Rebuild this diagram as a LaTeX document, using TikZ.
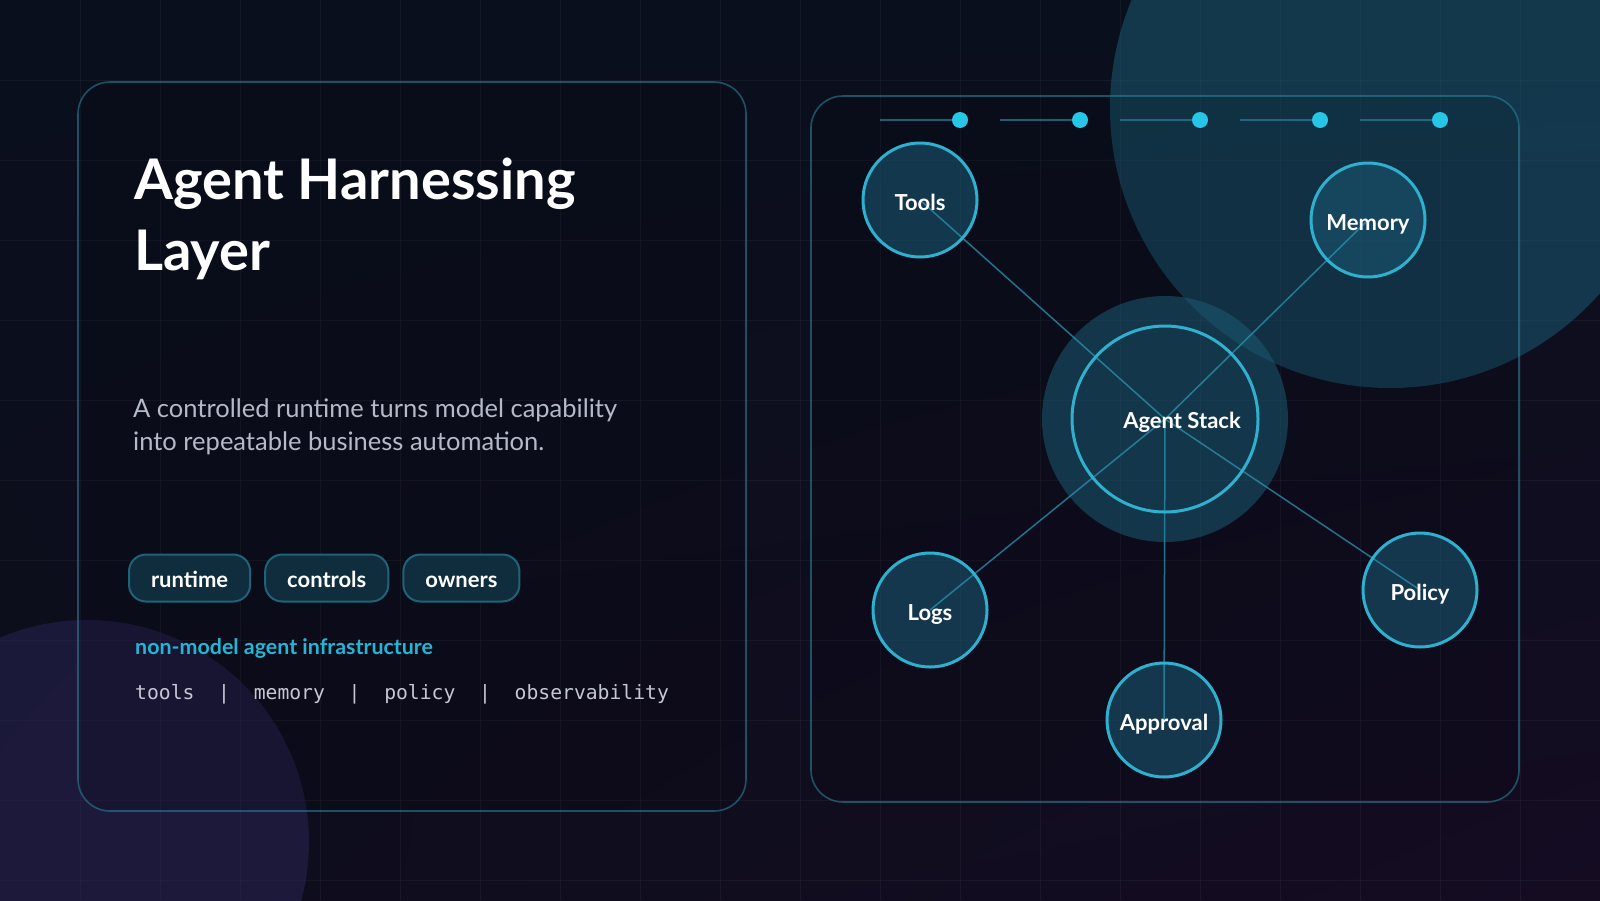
\documentclass[tikz,border=0pt]{standalone}
\usepackage{fontspec}
\setmainfont{Lato}
\setmonofont{DejaVu Sans Mono}
\usetikzlibrary{positioning,shadings}
\definecolor{BgTop}{HTML}{0A0F1D}
\definecolor{BgMid}{HTML}{0D0D1C}
\definecolor{BgBot}{HTML}{150C22}
\definecolor{GlowTeal}{HTML}{1B5A74}
\definecolor{DeepViolet}{HTML}{2B2558}
\definecolor{EdgeTeal}{HTML}{2A7F99}
\definecolor{RingCyan}{HTML}{2EB0CE}
\definecolor{DotCyan}{HTML}{25C6E6}
\definecolor{LinkTeal}{HTML}{2A95B2}
\definecolor{NodeFill}{HTML}{1A5570}
\definecolor{PillFill}{HTML}{0F2D3C}
\definecolor{PillEdge}{HTML}{1F6378}
\definecolor{TagCyan}{HTML}{23B5D6}
\definecolor{BodyGrey}{HTML}{B4BAC8}
\definecolor{MonoGrey}{HTML}{C4C8D4}
\pgfdeclarelayer{bg}
\pgfdeclarelayer{links}
\pgfsetlayers{bg,links,main}
\tikzset{
  % Panel frame
  PN/.style={rounded corners=32pt,draw=EdgeTeal,draw opacity=0.6,line width=1.6pt,
             fill=black,fill opacity=0.12},
  % Grid line
  GL/.style={white,opacity=0.045,line width=1pt},
  % Chips
  pill/.style={rectangle,rounded corners=17pt,minimum height=47pt,inner xsep=22pt,
               text height=18pt,text depth=0pt,
               draw=PillEdge,line width=2pt,fill=PillFill,text=white,
               font=\fontsize{22}{22}\selectfont\bfseries},
  % Graph nodes
  orb/.style={circle,minimum size=114pt,inner sep=0pt,draw=RingCyan,line width=3pt,
              text height=21pt,text depth=0pt,
              text=white,font=\fontsize{22}{22}\selectfont\bfseries},
  hub/.style={orb,minimum size=186pt,text height=19pt},
  orbfill/.style={fill=NodeFill,fill opacity=0.6},
  glow/.style={fill=GlowTeal,fill opacity=0.55},
  % Connector
  link/.style={draw=LinkTeal,line width=1.5pt,draw opacity=0.75},
  % Text styles (anchored on the last line)
  TT/.style={anchor=base west,align=left,inner sep=0pt,text=white,
             font=\fontsize{56}{71}\selectfont\bfseries},
  TB/.style={anchor=base west,align=left,inner sep=0pt,text=BodyGrey,
             font=\fontsize{25.5}{33}\selectfont}
}

\begin{document}
\begin{tikzpicture}[x=1pt,y=-1pt]
  \useasboundingbox (0,0) rectangle (1600,900);

  \begin{pgfonlayer}{bg}
    % --- backdrop ---
    \shade[upper left=BgTop,upper right=BgTop,lower left=BgMid,lower right=BgBot]
      (0,0) rectangle (1600,900);
    \foreach \x in {80,160,...,1520} \draw[GL] (\x,0) -- (\x,900);
    \foreach \y in {80,160,...,880}  \draw[GL] (0,\y) -- (1600,\y);
    \fill[glow] (1390,108) circle[radius=280];
    \fill[DeepViolet,fill opacity=0.5] (87,842) circle[radius=222];
    % --- panels ---
    \path[PN] (78,82) rectangle (746,811);
    \path[PN] (811,96) rectangle (1519,802);
  \end{pgfonlayer}

  % --- left panel text ---
  \node[TT] (title) at (134,270) {Agent Harnessing\\Layer};
  \node[TB] (lede)  at (133,450) {A controlled runtime turns model capability\\into repeatable business automation.};

  \node[pill,anchor=west]         (runtime)  at (128,578) {runtime};
  \node[pill,right=13pt of runtime]  (controls) {controls};
  \node[pill,right=13pt of controls] (owners)   {owners};

  \node[anchor=base west,inner sep=0pt,text=TagCyan,font=\fontsize{21.4}{21}\selectfont\bfseries]
    (tagline) at (135,654) {non-model agent infrastructure};
  \node[anchor=base west,inner sep=0pt,text=MonoGrey,font=\ttfamily\fontsize{19.7}{20}\selectfont]
    (parts) at (135,699) {tools~~|~~memory~~|~~policy~~|~~observability};

  % --- step track ---
  \foreach \x in {960,1080,...,1440}{
    \draw[EdgeTeal,draw opacity=0.7,line width=2pt] (\x-80,120) -- (\x,120);
    \fill[DotCyan] (\x,120) circle[radius=8];
  }

  % --- graph ---
  \node[hub] (agent)    at (1165,419) {\kern34pt Agent Stack};
  \node[orb] (tools)    at (920,200)  {Tools};
  \node[orb] (memory)   at (1368,220) {Memory};
  \node[orb] (logs)     at (930,610)  {Logs};
  \node[orb] (policy)   at (1420,590) {Policy};
  \node[orb] (approval) at (1164,720) {Approval};

  \begin{pgfonlayer}{links}
    \fill[glow] (agent.center) circle[radius=123];
    \foreach \n in {tools,memory,logs,policy,approval}
      \fill[orbfill] (\n.center) circle[radius=57];
    \foreach \n in {tools,memory,logs,policy,approval}
      \draw[link] (\n.center) -- (agent.center);
  \end{pgfonlayer}
\end{tikzpicture}
\end{document}
